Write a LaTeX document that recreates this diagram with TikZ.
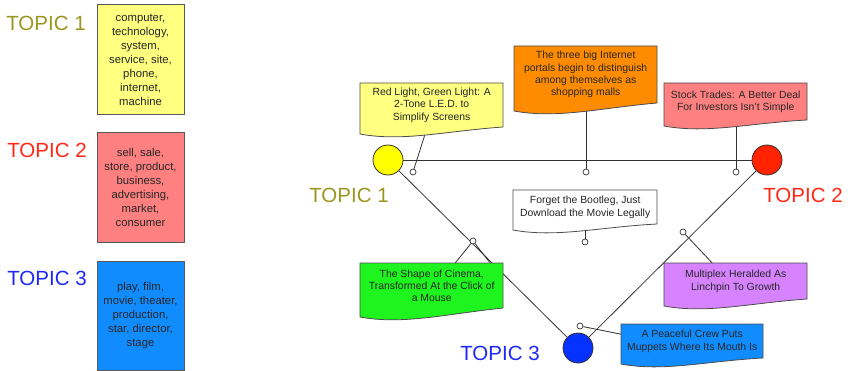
\documentclass[tikz,border=0pt]{standalone}
\usepackage{fontspec}
\setmainfont{Liberation Sans}
\usetikzlibrary{calc}
\pgfdeclarelayer{lines}
\pgfdeclarelayer{boxes}
\pgfsetlayers{lines,boxes,main}
\definecolor{tone}{RGB}{155,150,30}
\definecolor{ttwo}{RGB}{255,40,20}
\definecolor{tthree}{RGB}{30,40,245}
\definecolor{kyellow}{RGB}{255,255,128}
\definecolor{kred}{RGB}{255,128,128}
\definecolor{kblue}{RGB}{17,140,255}
\definecolor{korange}{RGB}{255,140,0}
\definecolor{kgreen}{RGB}{30,245,30}
\definecolor{kpurple}{RGB}{215,131,255}
\definecolor{cyellow}{RGB}{255,255,0}
\definecolor{cred}{RGB}{255,35,0}
\definecolor{cblue}{RGB}{5,50,255}
\definecolor{lnc}{RGB}{50,50,50}
\newcommand{\docoutline}[6]{%
  \filldraw[docline, fill=#6] (#1,#2) -- (#3,#2) -- (#3,{#4-#5})
    .. controls ({#1+0.6*(#3-#1)},{#4-3}) and ({#1+0.3*(#3-#1)},{#4+8}) .. (#1,#4) -- cycle;}
\begin{document}
\begin{tikzpicture}[x=1pt,y=-1pt,
  topiclabel/.style={font=\fontsize{20.5}{24}\selectfont, inner sep=0pt},
  keybox/.style={draw=black!65, line width=1pt, minimum width=87pt, align=center,
     font=\fontsize{11.3}{14}\selectfont, text=black!85, inner sep=0pt},
  doctext/.style={align=center, font=\fontsize{10.4}{12.3}\selectfont, text=black!85,
     inner sep=0pt, anchor=north west, minimum width=143pt},
  docline/.style={draw=black!70, line width=0.8pt},
  conn/.style={draw=lnc, line width=0.8pt},
  bigc/.style={circle, draw=lnc, line width=0.8pt, minimum size=30pt, inner sep=0pt},
  smallc/.style={circle, draw=lnc, line width=0.7pt, fill=white, minimum size=6pt, inner sep=0pt}]
\useasboundingbox (0,0) rectangle (850,371);

% left legend
\node[topiclabel, text=tone] (lt1) at (46,23) {TOPIC 1};
\node[topiclabel, text=ttwo] (lt2) at (47,150) {TOPIC 2};
\node[topiclabel, text=tthree] (lt3) at (47,278) {TOPIC 3};
\node[keybox, fill=kyellow, minimum height=110pt] (k1) at (140.5,60)
  {computer,\\technology,\\system,\\service, site,\\phone,\\internet,\\machine};
\node[keybox, fill=kred, minimum height=109pt] (k2) at (140.5,187.5)
  {sell, sale,\\store, product,\\business,\\advertising,\\market,\\consumer};
\node[keybox, fill=kblue, minimum height=109pt] (k3) at (140.5,315.5)
  {play, film,\\movie, theater,\\production,\\star, director,\\stage};

% topic circles
\node[bigc, fill=cyellow] (yc) at (388,160) {};
\node[bigc, fill=cred] (rc) at (767,160) {};
\node[bigc, fill=cblue] (bc) at (578,348) {};
\node[topiclabel, text=tone] (dt1) at (349,195) {TOPIC 1};
\node[topiclabel, text=ttwo] (dt2) at (803,195) {TOPIC 2};
\node[topiclabel, text=tthree] (dt3) at (500,353) {TOPIC 3};

% anchor circles
\node[smallc] (s1) at (413,172) {};
\node[smallc] (s2) at (586,172) {};
\node[smallc] (s3) at (736,172) {};
\node[smallc] (s4) at (585,242) {};
\node[smallc] (s5) at (473,241) {};
\node[smallc] (s6) at (683,232) {};
\node[smallc] (s7) at (580,326) {};

% document boxes (text nodes)
\node[doctext, minimum height=44pt] (dred) at (360,83)
  {Red Light, Green Light: A\\2-Tone L.E.D. to\\Simplify Screens};
\node[doctext, minimum height=57pt] (dorange) at (514,46)
  {The three big Internet\\portals begin to distinguish\\among themselves as\\shopping malls};
\node[doctext, minimum height=37pt] (dstock) at (664,83)
  {Stock Trades: A Better Deal\\For Investors Isn't Simple};
\node[doctext, minimum width=144pt, minimum height=34pt] (dforget) at (513,190)
  {Forget the Bootleg, Just\\Download the Movie Legally};
\node[doctext, minimum height=45pt] (dcinema) at (360,263)
  {The Shape of Cinema,\\Transformed At the Click of\\a Mouse};
\node[doctext, minimum height=36pt] (dmulti) at (664,263)
  {Multiplex Heralded As\\Linchpin To Growth};
\node[doctext, minimum width=142pt, minimum height=34pt] (dpeace) at (621,324)
  {A Peaceful Crew Puts\\Muppets Where Its Mouth Is};

\begin{pgfonlayer}{lines}
  \draw[conn] (yc) -- (rc);
  \draw[conn] (yc) -- (bc);
  \draw[conn] (rc) -- (bc);
  \draw[conn] (s1) -- ([xshift=-4.5pt]dred.south);
  \draw[conn] (s2) -- (s2 |- dorange.south);
  \draw[conn] (s3) -- (s3 |- dstock.south);
  \draw[conn] (s4) -- (s4 |- dforget.south);
  \draw[conn] (s5) -- ([xshift=23.5pt]dcinema.north);
  \draw[conn] (s5) -- ([xshift=58.5pt]dcinema.north);
  \draw[conn] (s6) -- ([xshift=-23.5pt]dmulti.north);
  \draw[conn] (s7) -- ([yshift=7pt]dpeace.west);
\end{pgfonlayer}

\begin{pgfonlayer}{boxes}
  \docoutline{360}{83}{503}{134}{7}{kyellow}
  \docoutline{514}{46}{657}{111}{8}{korange}
  \docoutline{664}{83}{807}{126}{6}{kred}
  \docoutline{513}{190}{657}{230}{6}{white}
  \docoutline{360}{263}{503}{317}{9}{kgreen}
  \docoutline{664}{263}{807}{306}{7}{kpurple}
  \docoutline{621}{324}{763}{364}{6}{kblue}
\end{pgfonlayer}
\end{tikzpicture}
\end{document}
